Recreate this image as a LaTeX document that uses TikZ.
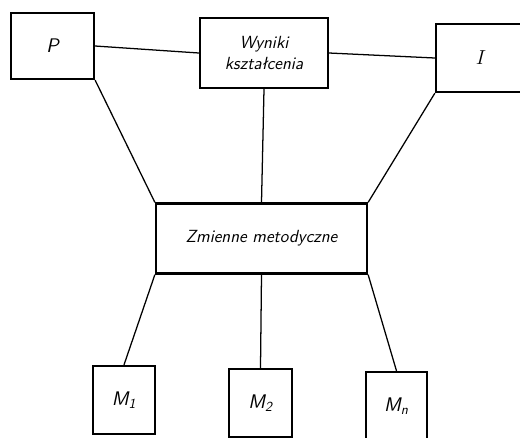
\documentclass[tikz,border=0pt]{standalone}
\begin{document}
\begin{tikzpicture}[
        x=0.025cm, y=-0.025cm,
        box/.style = {draw, line width=1.6pt, inner sep=0pt, font=\sffamily\itshape\fontsize{12.5}{15}\selectfont, align=center},
        link/.style = {line width=0.9pt},
    ]
        \useasboundingbox (0,0) rectangle (520,437);
        \node[box, minimum width=83*0.025cm, minimum height=66*0.025cm] (P) at (52.5,46) {\fontsize{14}{16}\selectfont P};
        \node[box, minimum width=128*0.025cm, minimum height=70*0.025cm] (wyniki) at (264,53) {Wyniki\\kształcenia};
        \node[box, minimum width=90*0.025cm, minimum height=68*0.025cm] (I) at (481,58) {\fontsize{14}{16}\selectfont$I$};
        \node[box, minimum width=211*0.025cm, minimum height=70*0.025cm] (zmienne) at (261.5,238.5) {Zmienne metodyczne};
        \node[box, minimum width=62*0.025cm, minimum height=68*0.025cm] (M1) at (124,400) {\fontsize{14}{16}\selectfont M\textsubscript{1}};
        \node[box, minimum width=63*0.025cm, minimum height=68*0.025cm] (M2) at (260.5,403) {\fontsize{14}{16}\selectfont M\textsubscript{2}};
        \node[box, minimum width=61*0.025cm, minimum height=68*0.025cm] (Mn) at (396.5,406) {\fontsize{14}{16}\selectfont M\textsubscript{n}};
        \draw[link] (P.east) -- (wyniki.west);
        \draw[link] (wyniki.east) -- (I.west);
        \draw[link] (wyniki.south) -- (zmienne.north);
        \draw[link] (P.south east) -- (zmienne.north west);
        \draw[link] (I.south west) -- (zmienne.north east);
        \draw[link] (zmienne.south west) -- (M1.north);
        \draw[link] (zmienne.south) -- (M2.north);
        \draw[link] (zmienne.south east) -- (Mn.north);
    \end{tikzpicture}
\end{document}
